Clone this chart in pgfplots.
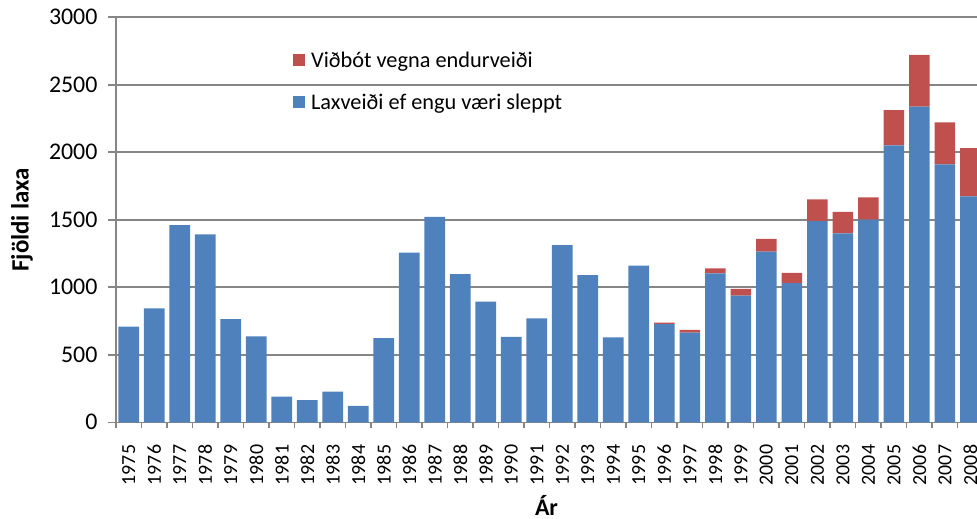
\documentclass[border=0pt]{standalone}
\usepackage{fontspec}
\setmainfont{Carlito}
\usepackage{pgfplots}
\pgfplotsset{compat=1.18}
\usepackage{pgfplotstable}
\definecolor{barblue}{HTML}{4F81BD}
\definecolor{barred}{HTML}{C0504D}
\definecolor{gridgray}{HTML}{868686}
\pgfplotstableread{
x year blue red
0 1975 708 0
1 1976 844 0
2 1977 1460 0
3 1978 1392 0
4 1979 765 0
5 1980 637 0
6 1981 190 0
7 1982 165 0
8 1983 227 0
9 1984 121 0
10 1985 624 0
11 1986 1256 0
12 1987 1521 0
13 1988 1098 0
14 1989 893 0
15 1990 632 0
16 1991 770 0
17 1992 1313 0
18 1993 1091 0
19 1994 630 0
20 1995 1160 0
21 1996 728 10
22 1997 664 20
23 1998 1104 37
24 1999 938 50
25 2000 1264 94
26 2001 1030 76
27 2002 1491 161
28 2003 1400 158
29 2004 1501 166
30 2005 2052 261
31 2006 2338 383
32 2007 1911 311
33 2008 1674 356
}\datatable
\begin{document}
\begin{tikzpicture}
\useasboundingbox (-116bp,-96.7bp) rectangle (861bp,422.3bp);
\begin{axis}[
  at={(0,0)}, anchor=south west,
  scale only axis,
  width=861bp, height=405bp,
  ybar stacked,
  bar width=0.81,
  xmin=-0.5, xmax=33.26,
  ymin=0, ymax=3000,
  ytick={0,500,...,3000},
  xtick={0,...,33},
  xticklabel={\pgfmathparse{int(\tick+1975)}\pgfmathresult},
  minor xtick={-0.5,0.5,...,33.5},
  major x tick style={draw=none},
  minor x tick style={draw=gridgray, line width=1.6bp},
  minor tick length=6bp,
  major tick length=8bp,
  tick align=outside,
  ytick style={draw=gridgray, line width=1.6bp},
  axis x line*=bottom, axis y line*=left,
  axis line style={draw=gridgray, line width=1.6bp, -},
  ymajorgrids,
  grid style={draw=gridgray, line width=1.6bp},
  /pgf/number format/assume math mode=true,
  /pgf/number format/1000 sep={},
  yticklabel style={font=\fontsize{24}{28}\selectfont, xshift=-7bp},
  xticklabel style={font=\fontsize{20}{24}\selectfont, rotate=90, anchor=east, xshift=-11bp},
  xlabel={\fontsize{24}{28}\selectfont\bfseries Ár},
  ylabel={\fontsize{25}{30}\selectfont\bfseries Fjöldi laxa},
  every axis x label/.style={at={([yshift=-82.7bp]axis description cs:0.5,0)}, anchor=center},
  every axis y label/.style={at={([xshift=-94bp]axis description cs:0,0.5)}, anchor=center, rotate=90},
  legend style={draw=none, fill=none, at={(0.202,0.925)}, anchor=north west,
     font=\fontsize{22.4}{27}\selectfont, row sep=21bp,
     /tikz/every odd column/.append style={column sep=4bp}},
  legend cell align=left,
  reverse legend,
  legend image code/.code={\fill[#1] (0bp,-6bp) rectangle (12bp,6bp);},
]
\addplot[fill=barblue, draw=none] table[x=x, y=blue] {\datatable};
\addplot[fill=barred, draw=none] table[x=x, y=red] {\datatable};
\legend{Laxveiði ef engu væri sleppt, Viðbót vegna endurveiði}
\end{axis}
\end{tikzpicture}
\end{document}
